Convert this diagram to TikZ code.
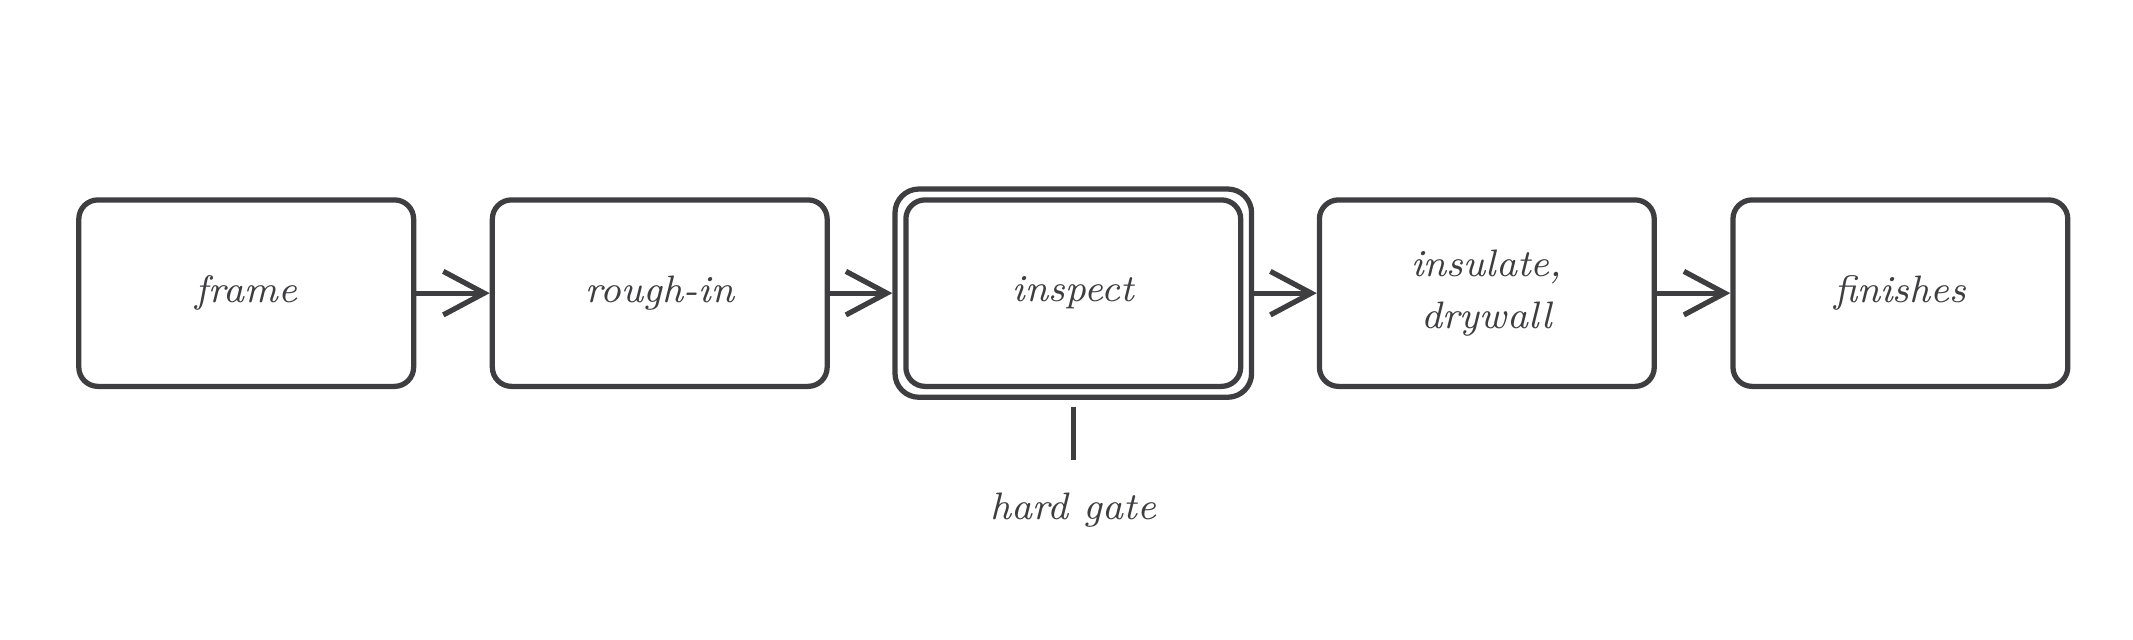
\documentclass[tikz,border=0pt]{standalone}
\usetikzlibrary{arrows.meta}
\definecolor{ink}{HTML}{3E3E40}
\begin{document}
\begin{tikzpicture}[x=0.01cm,y=-0.01cm,
  box/.style={draw=ink,line width=1.1pt,rounded corners=4pt,minimum width=2.46cm,minimum height=1.37cm,align=center,text=ink,font=\itshape\fontsize{8}{11}\selectfont},
  arr/.style={draw=ink,line width=1.1pt,-{Straight Barb[length=0.3cm,width=0.32cm,line width=1.1pt]}},
  lbl/.style={text=ink,font=\itshape\fontsize{8}{11}\selectfont}]
\useasboundingbox (0,0) rectangle (1568,470);
\node[box] (a) at (181,215.5) {frame};
\node[box] (b) at (485,215.5) {rough-in};
\node[box] (c) at (789,215.5) {inspect};
\node[draw=ink,line width=1.1pt,rounded corners=5pt,minimum width=2.62cm,minimum height=1.53cm] (co) at (789,215.5) {};
\node[box] (d) at (1093,215.5) {insulate,\\drywall};
\node[box] (e) at (1397,215.5) {finishes};
\draw[arr] (a.east) -- (b.west);
\draw[arr] (b.east) -- (co.west);
\draw[arr] (co.east) -- (d.west);
\draw[arr] (d.east) -- (e.west);
\node[lbl] (g) at (789,375) {hard gate};
\draw[ink,line width=1.1pt] ([yshift=-0.05cm]co.south) -- (789,338);
\end{tikzpicture}
\end{document}
